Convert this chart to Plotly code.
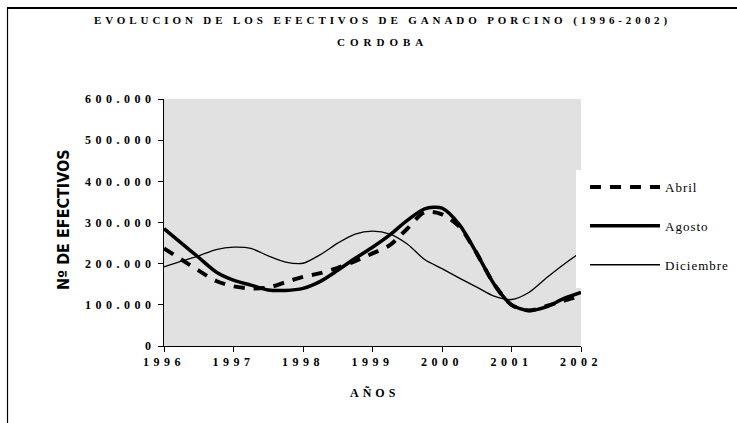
import plotly.graph_objects as go

# ---- data (values in number of animals) ----
years = [1996.00, 1996.25, 1996.50, 1996.75, 1997.00, 1997.25, 1997.50, 1997.75,
         1998.00, 1998.25, 1998.50, 1998.75, 1999.00, 1999.25, 1999.50, 1999.75,
         2000.00, 2000.25, 2000.50, 2000.75, 2001.00, 2001.25, 2001.50, 2001.75,
         2002.00]
abril = [237000, 210000, 183000, 158000, 145000, 140000, 142000, 155000,
         168000, 177000, 190000, 206000, 225000, 245000, 285000, 325000,
         320000, 290000, 225000, 150000, 100000, 86000, 97000, 110000,
         121000]
agosto = [285000, 250000, 215000, 180000, 160000, 148000, 136000, 135000,
          140000, 157000, 184000, 213000, 240000, 270000, 305000, 333000,
          335000, 295000, 225000, 150000, 100000, 86000, 95000, 115000,
          130000]
diciembre = [192000, 206000, 219000, 234000, 240000, 237000, 219000, 204000,
             201000, 222000, 250000, 272000, 279000, 272000, 248000, 210000,
             188000, 165000, 143000, 121000, 113000, 130000, 165000, 198000,
             228000]

x_ticks = [1996, 1997, 1998, 1999, 2000, 2001, 2002]
x_labels = ["1996", "1997", "1998", "1999", "2000", "2001", "2002"]
y_ticks = [0, 100000, 200000, 300000, 400000, 500000, 600000]
y_labels = ["0", "100.000", "200.000", "300.000", "400.000", "500.000", "600.000"]

title1 = "EVOLUCION DE LOS EFECTIVOS DE GANADO PORCINO (1996-2002)"
title2 = "CORDOBA"
x_title = "AÑOS"
y_title = "Nº DE EFECTIVOS"


def spaced(t, ls):
    return '<span style="letter-spacing:%spx">%s</span>' % (ls, t)


# ---- layout geometry (pixels) ----
W, H = 737, 423
L, R, T, B = 164, 581, 99, 346
pw, ph = R - L, B - T


def px(x):
    return (x - L) / pw


def py(y):
    return (B - y) / ph


SERIF = "Liberation Serif"

fig = go.Figure()
fig.add_trace(go.Scatter(
    x=years, y=abril, name=spaced("Abril", 1), mode="lines", legendgroup="a",
    line=dict(color="black", width=4, dash="11px,9px", shape="spline", smoothing=0.8)))
fig.add_trace(go.Scatter(
    x=years, y=agosto, name=spaced("Agosto", 1), mode="lines", legendgroup="b",
    line=dict(color="black", width=3.5, shape="spline", smoothing=0.8)))
fig.add_trace(go.Scatter(
    x=years, y=diciembre, name=spaced("Diciembre", 1), mode="lines", legendgroup="c",
    line=dict(color="black", width=1.3, shape="spline", smoothing=0.8)))

fig.update_layout(
    width=W, height=H,
    margin=dict(l=L, r=W - R, t=T, b=H - B, pad=0, autoexpand=False),
    paper_bgcolor="white",
    plot_bgcolor="#e1e1e1",
    font=dict(family=SERIF, color="black"),
    showlegend=True,
    legend=dict(
        x=px(585), xanchor="left", y=py(172), yanchor="top",
        bgcolor="white", borderwidth=0,
        font=dict(family=SERIF, size=13, color="black"),
        itemwidth=70, tracegroupgap=19, traceorder="grouped",
    ),
    xaxis=dict(
        range=[1996, 2002], tickmode="array", tickvals=x_ticks,
        ticktext=[spaced(t, 4.5) for t in x_labels],
        tickfont=dict(family=SERIF, size=12, weight="bold"),
        ticks="outside", ticklen=5, tickcolor="black", tickwidth=1,
        showline=True, linecolor="black", linewidth=1,
        showgrid=False, zeroline=False, fixedrange=True,
    ),
    yaxis=dict(
        range=[0, 600000], tickmode="array", tickvals=y_ticks,
        ticktext=[spaced(t, 4.5) for t in y_labels],
        tickfont=dict(family=SERIF, size=12, weight="bold"),
        ticks="outside", ticklen=5, tickcolor="black", tickwidth=1,
        showline=True, linecolor="black", linewidth=1,
        showgrid=False, zeroline=False, fixedrange=True,
    ),
    annotations=[
        dict(text=spaced(title1, 3.9), x=px(382), y=py(21), xref="paper", yref="paper",
             showarrow=False, xanchor="center", yanchor="middle",
             font=dict(family=SERIF, size=11, weight="bold")),
        dict(text=spaced(title2, 5), x=px(382), y=py(42), xref="paper", yref="paper",
             showarrow=False, xanchor="center", yanchor="middle",
             font=dict(family=SERIF, size=11, weight="bold")),
        dict(text=spaced(x_title, 4), x=px(374), y=py(393), xref="paper", yref="paper",
             showarrow=False, xanchor="center", yanchor="middle",
             font=dict(family=SERIF, size=12, weight="bold")),
        dict(text=y_title, x=px(63), y=py(220), xref="paper", yref="paper",
             showarrow=False, xanchor="center", yanchor="middle", textangle=-90,
             font=dict(family="DejaVu Sans Condensed", size=16, weight="bold")),
    ],
    shapes=[
        # white legend box edge covering the plot area
        dict(type="rect", xref="paper", yref="paper", x0=px(576), x1=px(600),
             y0=py(288), y1=py(170), fillcolor="white", line=dict(width=0), layer="above"),
        # outer chart frame (top and left edges visible)
        dict(type="line", xref="paper", yref="paper", x0=px(7), x1=px(760),
             y0=py(8.5), y1=py(8.5), line=dict(color="black", width=1.2), layer="above"),
        dict(type="line", xref="paper", yref="paper", x0=px(7.5), x1=px(7.5),
             y0=py(8), y1=py(440), line=dict(color="black", width=1.2), layer="above"),
    ],
)

post = (
    "document.body.style.margin='0';"
    "var f=document.createElement('div');"
    "f.style.cssText='position:absolute;left:7px;top:7px;width:760px;height:0;"
    "border-top:1px solid black;pointer-events:none;z-index:1000';"
    "document.body.appendChild(f);"
)
fig.write_html("out.html", config={"displayModeBar": False}, post_script=post)
